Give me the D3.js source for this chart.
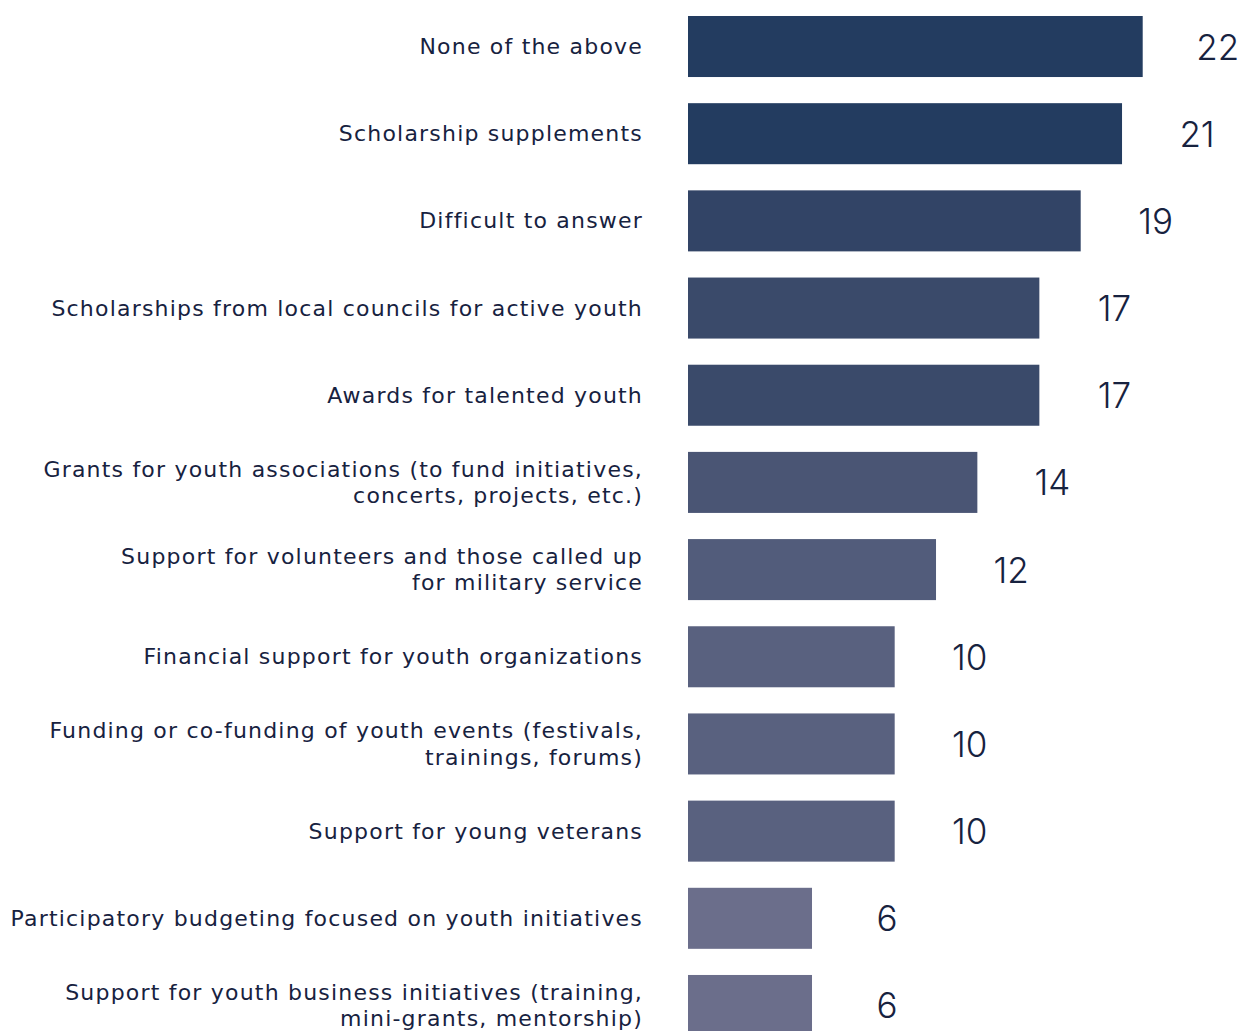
<!DOCTYPE html>
<html>
<head>
<meta charset="utf-8">
<script src="https://cdn.jsdelivr.net/npm/d3@7/dist/d3.min.js"></script>
<style>
  html, body { margin: 0; padding: 0; background: #ffffff; }
  svg { display: block; }
  text { fill: #17223f; }
  .value { font-family: "Inter", "Lato", sans-serif; }
  .cat { font-family: "DejaVu Sans", "Inter", sans-serif; letter-spacing: 1.2px; }
</style>
</head>
<body>
<svg id="chart" width="1239" height="1031"></svg>
<script>
// Category labels, one entry per bar; inner arrays are the wrapped lines
const categories = [
  ["None of the above"],
  ["Scholarship supplements"],
  ["Difficult to answer"],
  ["Scholarships from local councils for active youth"],
  ["Awards for talented youth"],
  ["Grants for youth associations (to fund initiatives,", "concerts, projects, etc.)"],
  ["Support for volunteers and those called up", "for military service"],
  ["Financial support for youth organizations"],
  ["Funding or co-funding of youth events (festivals,", "trainings, forums)"],
  ["Support for young veterans"],
  ["Participatory budgeting focused on youth initiatives"],
  ["Support for youth business initiatives (training,", "mini-grants, mentorship)"]
];
const values = [22, 21, 19, 17, 17, 14, 12, 10, 10, 10, 6, 6];
const barColors = ["#233c60", "#233c60", "#324466", "#3a4a6a", "#3a4a6a", "#4a5574",
                   "#525c7b", "#59617f", "#59617f", "#59617f", "#6b6e8b", "#6b6e8b"];

const svg = d3.select("#chart");
const keys = categories.map(d => d.join(" "));

const x = d3.scaleLinear().domain([0, 22]).range([688, 1142.7]);
const y = d3.scaleBand().domain(keys).range([16, 1036]).paddingInner(0.3).paddingOuter(0);

const rows = svg.append("g").selectAll("g")
  .data(keys.map((k, i) => ({ key: k, lines: categories[i], value: values[i], color: barColors[i] })))
  .join("g");

// Bars
rows.append("rect")
  .attr("x", x(0))
  .attr("y", d => y(d.key))
  .attr("width", d => x(d.value) - x(0))
  .attr("height", y.bandwidth())
  .attr("fill", d => d.color);

// Value labels, centred a fixed distance past the bar end
rows.append("text")
  .attr("class", "value")
  .attr("x", d => x(d.value) + 75)
  .attr("y", d => y(d.key) + y.bandwidth() / 2)
  .attr("text-anchor", "middle")
  .attr("dominant-baseline", "central")
  .attr("font-size", 35)
  .attr("font-weight", 300)
  .text(d => d.value);

// Category labels, right-aligned to the left of the bars
const lineH = 26.5;
rows.append("text")
  .attr("class", "cat")
  .attr("text-anchor", "end")
  .attr("font-size", 22)
  .each(function (d) {
    const t = d3.select(this);
    const n = d.lines.length;
    const cy = y(d.key) + y.bandwidth() / 2;
    d.lines.forEach((line, j) => {
      t.append("tspan")
        .attr("x", 643)
        .attr("y", cy + (j - (n - 1) / 2) * lineH)
        .attr("dominant-baseline", "central")
        .text(line);
    });
  });
</script>
</body>
</html>
